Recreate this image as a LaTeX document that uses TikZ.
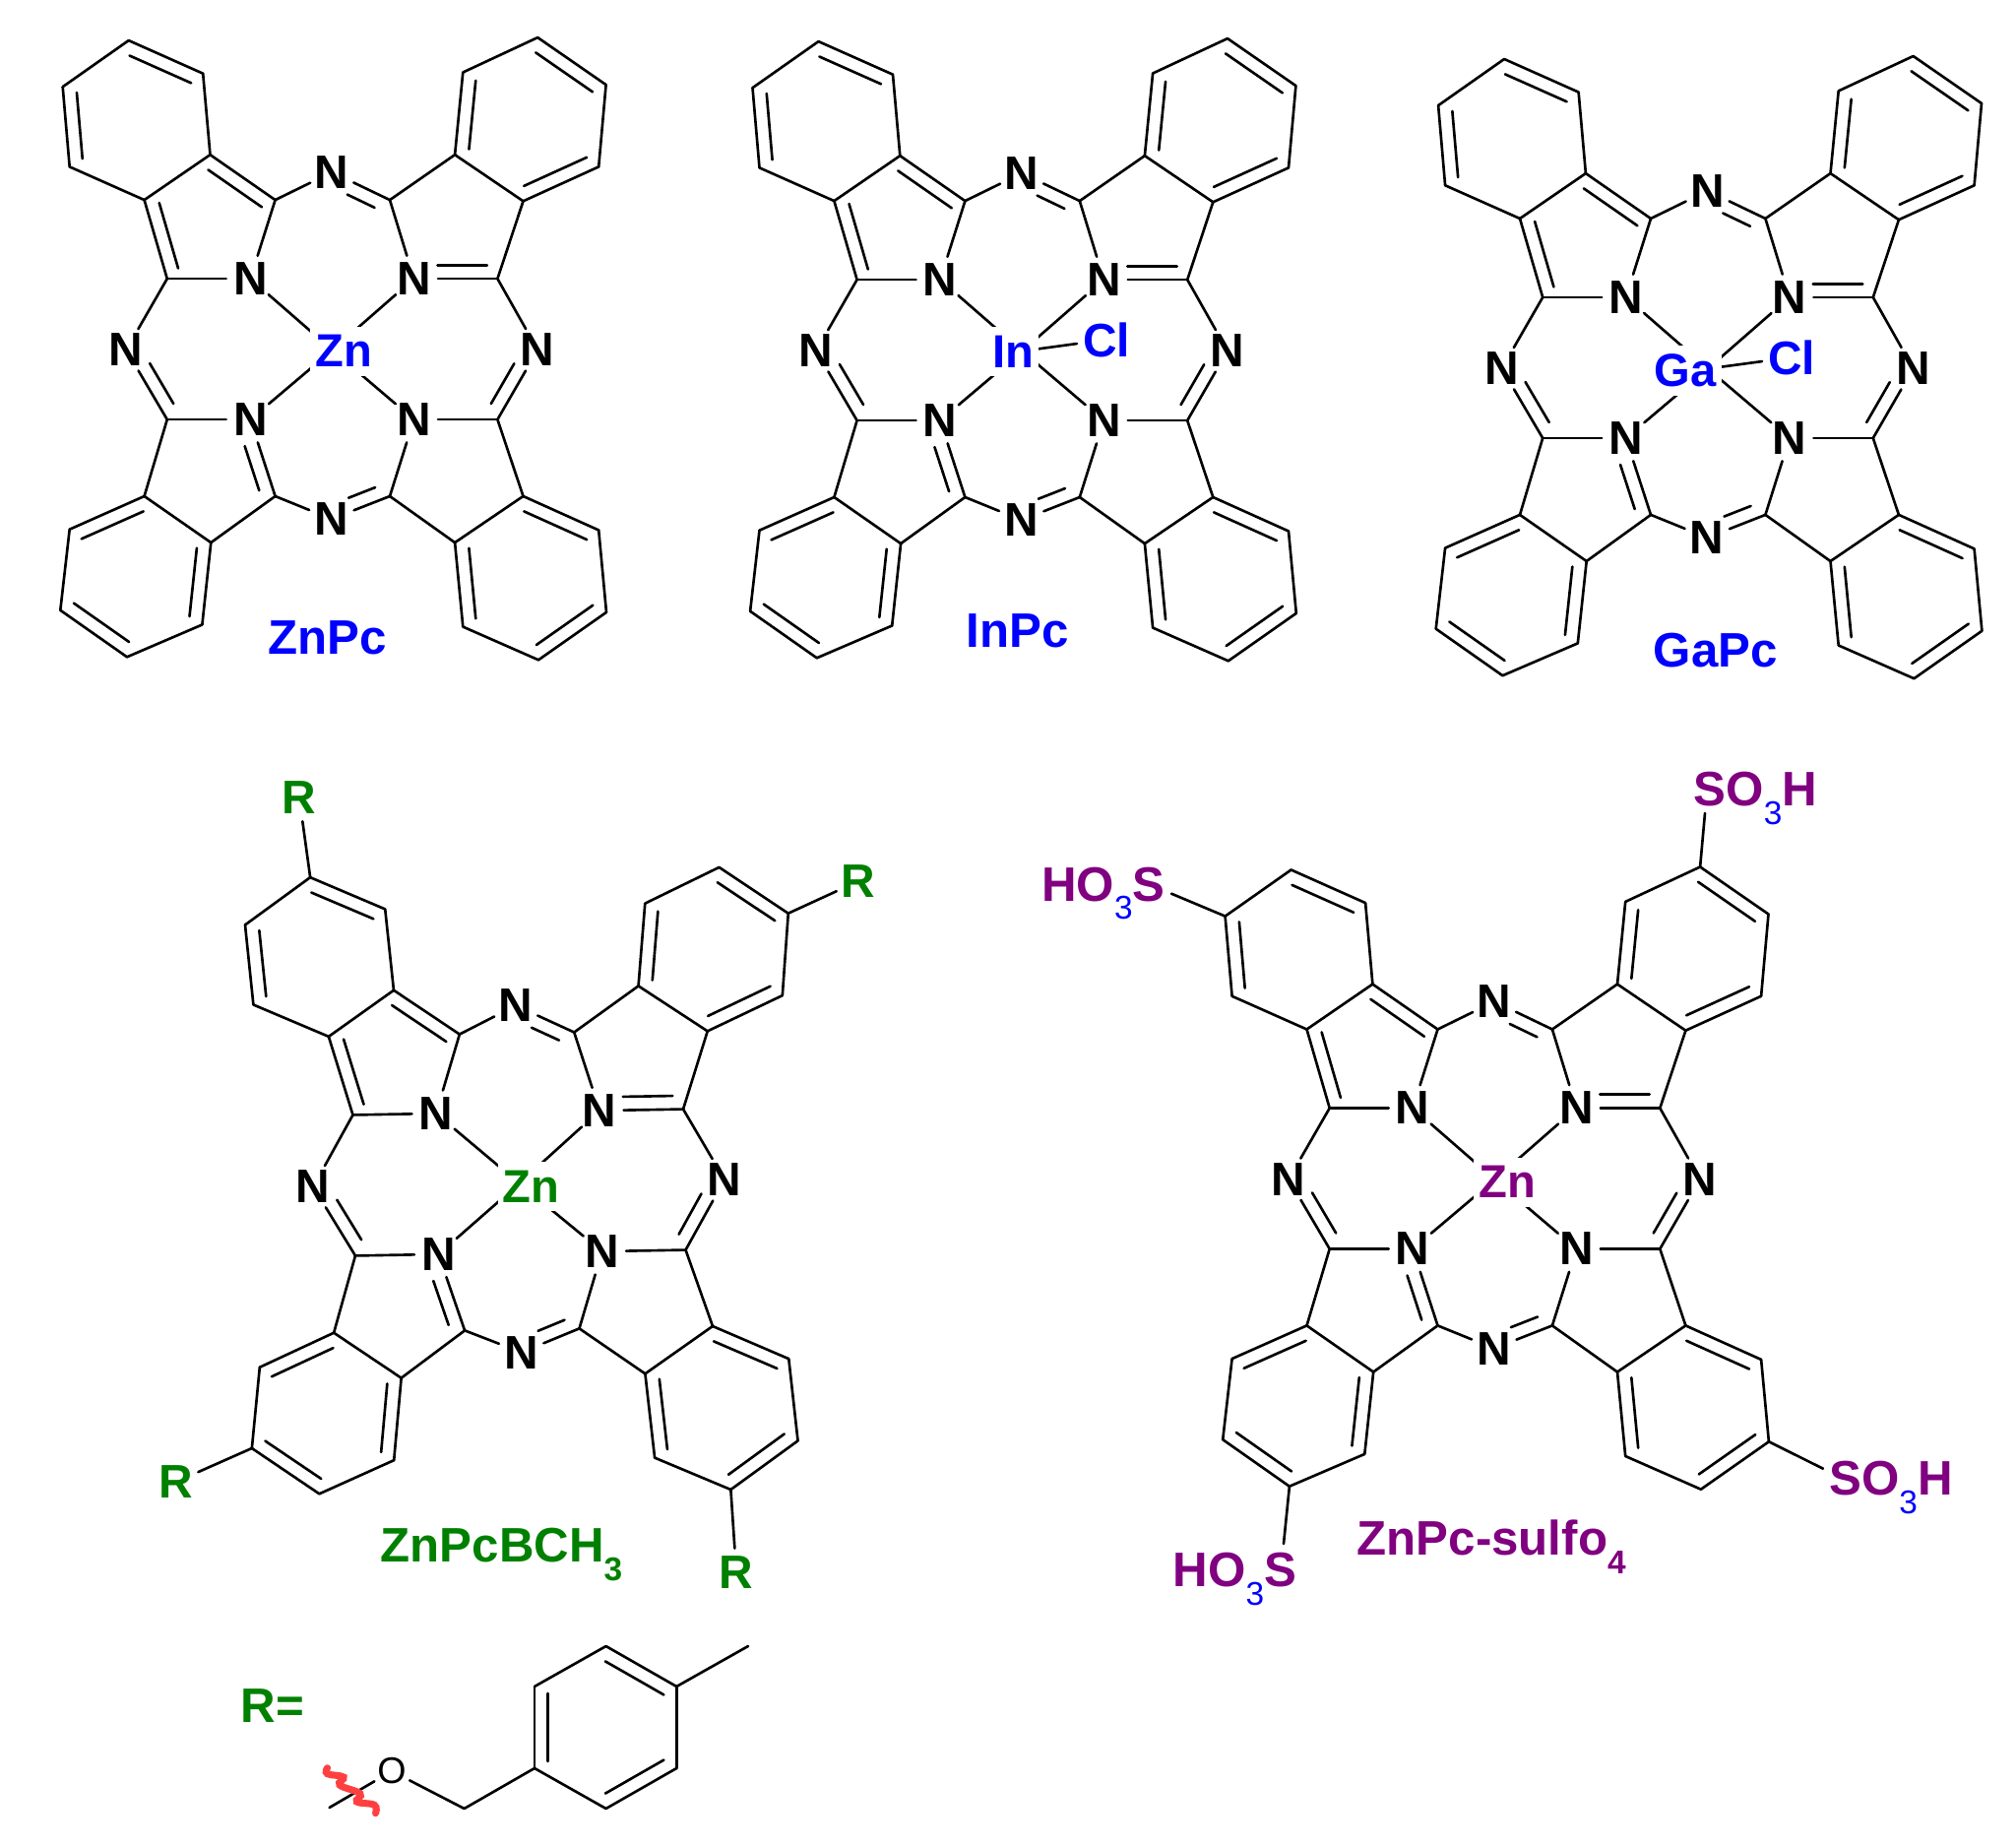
\documentclass[tikz,border=0pt]{standalone}
\usepackage{fontspec}
\setmainfont{Liberation Sans}
\usetikzlibrary{calc}

\definecolor{pcgreen}{RGB}{0,128,0}
\definecolor{pcpurple}{RGB}{128,0,128}
\definecolor{pcwiggle}{RGB}{255,64,64}

\tikzset{
    bond/.style={line width=0.75pt, line cap=round},
    atom/.style={circle, inner sep=0pt, minimum size=13.5pt, font=\bfseries\fontsize{13.6}{16}\selectfont},
    metal/.style={rectangle, fill=white, inner xsep=1.4pt, inner ysep=2.5pt, font=\bfseries\fontsize{13.4}{16}\selectfont},
    title/.style={inner sep=0pt, anchor=base west, font=\bfseries\fontsize{14}{16}\selectfont},
}

% double bond, inner line on the left of a -> b
\newcommand{\dbl}[2]{
    \draw[bond] (#1) -- (#2);
    \draw[bond] ($(#1)!2pt!(#2)!3.9pt!90:(#2)$) -- ($(#2)!2pt!(#1)!3.9pt!-90:(#1)$);
}
% double bond from a nitrogen label to a carbon
\newcommand{\dbln}[3]{
    \draw[bond] (#1) -- (#2);
    \draw[bond] ($(#1)!6.8pt!(#2)!#3!90:(#2)$) -- ($(#2)!3pt!(#1)!#3!-90:(#1)$);
}
\newcommand{\lowidx}[2]{\raisebox{-5.4pt}{\fontsize{9.5}{10}\selectfont\textcolor{#1}{#2}}}

% the whole ring system, #1 prefix
\newcommand{\pcframe}[1]{
    \foreach \na/\px/\py in {a1/-206.9/-313.5, a2/-131.4/-279.9, a3/-124.1/-197.4, a4/-191/-151.5,
        a5/-266.9/-185.2, a6/-273.9/-266.4, c/-58/-151.5, d/-167.8/-71.5,
        e/58.4/-151.5, f/124.5/-197.4, g/193.9/-150.3, h/167.8/-71.5,
        t1/132.7/-281.1, t2/208.6/-316.5, t3/278/-268.5, t4/270.6/-185.2,
        k/167.8/71.5, l/58.4/149.4, m/193.9/149.4, o/124.5/196.5,
        b1/270.6/183.9, b2/278.4/267.3, b3/209.4/315.7, b4/132.7/282,
        p/-167.8/71.5, q/-191/149.4, r/-58/149.4, s/-123.3/196.5,
        c1/-266.9/183.1, c2/-276.3/265.2, c3/-208.6/312.7, c4/-132.2/279.9,
        ctr/0/1}
        \coordinate (#1\na) at (\px,\py);
    \foreach \na/\px/\py in {n1/-83.3/-71.5, n2/82.9/-71.5, n3/82.9/71.5, n4/-83.3/71.5,
        nt/-0.4/-179.7, nr/208.6/0.8, nb/-0.8/172.6, nl/-209.4/0.8}
        \node[atom] (#1\na) at (\px,\py) {N};

    % Benzene rings
    \dbl{#1a2}{#1a1} \dbl{#1a6}{#1a5}
    \dbl{#1t1}{#1f} \dbl{#1t3}{#1t2} \dbl{#1g}{#1t4}
    \dbl{#1b1}{#1m} \dbl{#1b3}{#1b2} \dbl{#1o}{#1b4}
    \dbl{#1q}{#1c1} \dbl{#1c2}{#1c3} \dbl{#1c4}{#1s}
    \foreach \u/\v in {a1/a6, a2/a3, a3/a4, a4/a5, f/g, t1/t2, t3/t4,
        m/o, b1/b2, b3/b4, q/s, c1/c2, c3/c4}
        \draw[bond] (#1\u) -- (#1\v);

    % Five membered rings
    \dbl{#1c}{#1a3} \dbl{#1a4}{#1d}
    \foreach \u/\v in {c/n1, d/n1, c/nt, d/nl, e/n2, e/f, g/h, h/nr,
        k/n3, k/m, l/n3, l/o, p/n4, p/q, r/s, r/nb}
        \draw[bond] (#1\u) -- (#1\v);

    % Imine bonds
    \dbln{#1nt}{#1e}{-3.9pt}
    \dbln{#1n2}{#1h}{3.9pt}
    \dbln{#1nr}{#1k}{-3.9pt}
    \dbln{#1nb}{#1l}{3.9pt}
    \dbln{#1n4}{#1r}{-3.9pt}
    \dbln{#1nl}{#1p}{3.9pt}

    % Bonds to the metal
    \foreach \u in {n1,n2,n3,n4}
        \draw[bond] (#1\u) -- (#1ctr);
}

\begin{document}
\begin{tikzpicture}[x=0.01cm, y=-0.01cm]
    \useasboundingbox (0,0) rectangle (2048,1876);

    % ZnPc
    \begin{scope}[shift={(337.6,354.6)}]
        \pcframe{a}
        \node[metal, text=blue] (amet) at (11.4,2.1) {Zn};
    \end{scope}
    \node[title, text=blue] (alabel) at (272,664) {ZnPc};

    % InPc
    \begin{scope}[shift={(1038.4,355.6)}]
        \pcframe{b}
        \node[atom, text=blue] (bcl) at (85.6,-10.6) {Cl};
        \draw[bond] (bctr) -- (bcl);
        \node[metal, text=blue] (bmet) at (-9.4,1.4) {In};
    \end{scope}
    \node[title, text=blue] (blabel) at (981,657) {InPc};

    % GaPc
    \begin{scope}[shift={(1735,373.5)}]
        \pcframe{c}
        \node[atom, text=blue] (ccl) at (85,-10.5) {Cl};
        \draw[bond] (cctr) -- (ccl);
        \node[metal, text=blue] (cmet) at (-22.7,3.2) {Ga};
    \end{scope}
    \node[title, text=blue] (clabel) at (1679,677) {GaPc};

    % ZnPcBCH3
    \begin{scope}[shift={(527.5,1201)}, rotate=1]
        \pcframe{d}
        \node[metal, text=pcgreen] (dmet) at (11.8,4) {Zn};
    \end{scope}
    \node[atom, text=pcgreen] (rtl) at (304,810) {R};
    \node[atom, text=pcgreen] (rtr) at (872,895) {R};
    \node[atom, text=pcgreen] (rbl) at (179,1505) {R};
    \node[atom, text=pcgreen] (rbr) at (748,1597) {R};
    \draw[bond] (da1) -- (rtl);
    \draw[bond] (dt3) -- (rtr);
    \draw[bond] (dc2) -- (rbl);
    \draw[bond] (db3) -- (rbr);
    \node[title, text=pcgreen] (dlabel) at (386,1586) {ZnPcBCH\lowidx{pcgreen}{3}};

    % ZnPc-sulfo4
    \begin{scope}[shift={(1518.5,1197)}]
        \pcframe{e}
        \node[metal, text=pcpurple] (emet) at (12.5,3.5) {Zn};
    \end{scope}
    \node[title, text=pcpurple] (sotl) at (1057.5,915) {HO\lowidx{blue}{\mdseries 3}S};
    \node[title, text=pcpurple] (sotr) at (1720,818.3) {SO\lowidx{blue}{\mdseries 3}H};
    \node[title, text=pcpurple] (sobr) at (1857.6,1518) {SO\lowidx{blue}{\mdseries 3}H};
    \node[title, text=pcpurple] (sobl) at (1191,1611.7) {HO\lowidx{blue}{\mdseries 3}S};
    \coordinate (endtl) at (1190,907.7);
    \coordinate (endtr) at (1732,826);
    \coordinate (endbr) at (1852,1491.7);
    \coordinate (endbl) at (1304,1568);
    \draw[bond] (ea6) -- (endtl);
    \draw[bond] (et2) -- (endtr);
    \draw[bond] (eb2) -- (endbr);
    \draw[bond] (ec3) -- (endbl);
    \node[title, text=pcpurple] (elabel) at (1378,1579) {ZnPc-sulfo\lowidx{pcpurple}{4}};

    % R group
    \node[title, text=pcgreen] (rlabel) at (244,1749) {R=};
    \foreach \na/\px/\py in {r1/543/1713, r2/615.6/1672, r3/687.3/1713, r4/687.3/1796,
        r5/615.6/1837, r6/543/1796, rme/760/1672, rch/471.6/1837, rcut/334.6/1836}
        \coordinate (\na) at (\px,\py);
    \node[circle, inner sep=0pt, minimum size=11pt, font=\fontsize{10.7}{12}\selectfont] (roxy) at (398,1799) {O};
    \dbl{r1}{r6} \dbl{r3}{r2} \dbl{r5}{r4}
    \draw[bond] (r1) -- (r2);
    \draw[bond] (r3) -- (r4);
    \draw[bond] (r5) -- (r6);
    \draw[bond] (r3) -- (rme);
    \draw[bond] (r6) -- (rch);
    \draw[bond] (rch) -- (roxy);
    \draw[bond] (roxy) -- (rcut);
    \draw[pcwiggle, line width=2pt, line cap=round] plot[smooth, tension=0.7] coordinates
        {(332.6,1795.7) (332.6,1801.7) (349,1805) (345,1813) (365.8,1821.7) (362.4,1830) (380.3,1833.3) (381.5,1841.7)};
\end{tikzpicture}
\end{document}
